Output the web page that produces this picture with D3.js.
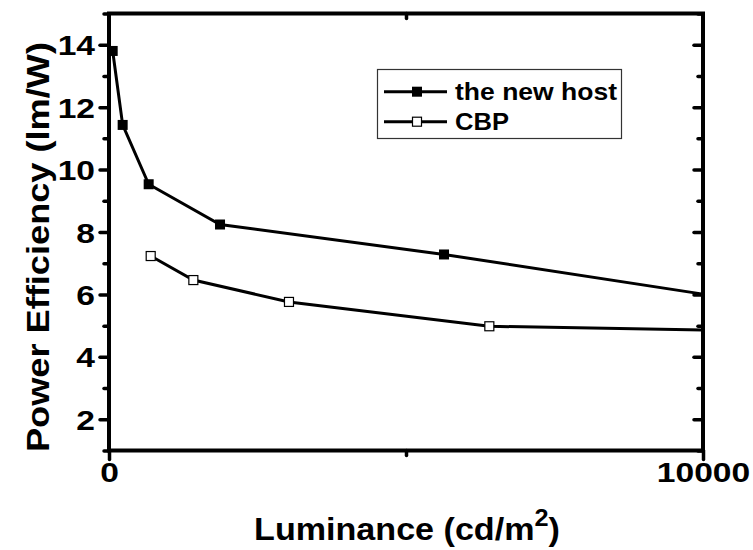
<!DOCTYPE html>
<html>
<head>
<meta charset="utf-8">
<script src="https://cdn.jsdelivr.net/npm/d3@7"></script>
<style>
  body { margin: 0; background: #fff; }
  svg { display: block; }
  svg text { font-family: "Liberation Sans", Arial, sans-serif; font-weight: bold; fill: #000; }
</style>
</head>
<body>
<div id="chart"></div>
<script>
// data
const newHostX = [62, 230, 668, 1869, 5640, 10000];
const newHostY = [13.8, 11.43, 9.53, 8.24, 7.28, 6.01];
const cbpX = [702, 1420, 3030, 6403, 10000];
const cbpY = [7.23, 6.46, 5.76, 4.98, 4.86];

const xMajor = [0, 10000];
const xMinor = [5000];
const yMajor = [2, 4, 6, 8, 10, 12, 14];
const yMinor = [1, 3, 5, 7, 9, 11, 13, 15];

const seriesNames = ['the new host', 'CBP'];

const width = 753, height = 550;
const svg = d3.select('#chart').append('svg')
    .attr('width', width)
    .attr('height', height);

const x = d3.scaleLinear().domain([0, 10000]).range([109, 703]);
const y = d3.scaleLinear().domain([1, 15]).range([450.5, 13.5]);

const series = [
    { name: seriesNames[0], data: newHostX.map((v, i) => ({ x: v, y: newHostY[i] })), fill: '#000' },
    { name: seriesNames[1], data: cbpX.map((v, i) => ({ x: v, y: cbpY[i] })), fill: '#fff' }
];

// lines
const line = d3.line().x(d => x(d.x)).y(d => y(d.y));
series.forEach(s => {
    svg.append('path')
        .datum(s.data)
        .attr('fill', 'none')
        .attr('stroke', '#000')
        .attr('stroke-width', 3)
        .attr('d', line);
});

// markers (the last points sit on the right frame, no symbol visible there)
series.forEach(s => {
    const size = s.fill === '#000' ? 10 : 9;
    svg.selectAll(null)
        .data(s.data.filter(d => d.x < 10000))
        .enter().append('rect')
        .attr('x', d => x(d.x) - size / 2)
        .attr('y', d => y(d.y) - size / 2)
        .attr('width', size)
        .attr('height', size)
        .attr('fill', s.fill)
        .attr('stroke', '#000')
        .attr('stroke-width', s.fill === '#000' ? 0 : 1.2);
});

// axes: ticks first, then frame
function styleAxis(g) {
    g.attr('font-family', null).attr('font-size', null);
    g.select('.domain').remove();
    g.selectAll('.tick line')
        .attr('stroke', '#000')
        .attr('stroke-width', 3.5)
        .attr('stroke-linecap', 'round');
}

const tickStretch = 1.2;
const tickFont = 28;
const fmt = d3.format('d');

function styleLabels(g, dy) {
    g.selectAll('text')
        .attr('fill', '#000')
        .style('font-size', tickFont + 'px')
        .attr('dy', dy)
        .attr('textLength', d => fmt(d).length * 0.556 * tickFont * tickStretch)
        .attr('lengthAdjust', 'spacingAndGlyphs');
}

// left
svg.append('g').attr('transform', `translate(${x(0)},0)`)
    .call(d3.axisLeft(y).tickValues(yMinor).tickSize(5).tickFormat(''))
    .call(styleAxis);
svg.append('g').attr('transform', `translate(${x(0)},0)`)
    .call(d3.axisLeft(y).tickValues(yMajor).tickSize(9).tickPadding(5).tickFormat(fmt))
    .call(styleAxis)
    .call(g => styleLabels(g, '0.36em'));

// right (inward)
svg.append('g').attr('transform', `translate(${x(10000)},0)`)
    .call(d3.axisLeft(y).tickValues(yMinor).tickSize(5).tickFormat(''))
    .call(styleAxis);
svg.append('g').attr('transform', `translate(${x(10000)},0)`)
    .call(d3.axisLeft(y).tickValues(yMajor).tickSize(9).tickFormat(''))
    .call(styleAxis);

// bottom
svg.append('g').attr('transform', `translate(0,${y(1)})`)
    .call(d3.axisBottom(x).tickValues(xMinor).tickSize(5).tickFormat(''))
    .call(styleAxis);
svg.append('g').attr('transform', `translate(0,${y(1)})`)
    .call(d3.axisBottom(x).tickValues(xMajor).tickSize(9).tickPadding(2).tickFormat(fmt))
    .call(styleAxis)
    .call(g => styleLabels(g, '0.72em'));

// top (inward)
svg.append('g').attr('transform', `translate(0,${y(15)})`)
    .call(d3.axisBottom(x).tickValues(xMinor).tickSize(5).tickFormat(''))
    .call(styleAxis);

// frame
svg.append('rect')
    .attr('x', x(0))
    .attr('y', y(15))
    .attr('width', x(10000) - x(0))
    .attr('height', y(1) - y(15))
    .attr('fill', 'none')
    .attr('stroke', '#000')
    .attr('stroke-width', 4);

// axis titles
const xTitle = svg.append('text')
    .attr('transform', `translate(${(x(0) + x(10000)) / 2 + 1},540) scale(1.1,1)`)
    .attr('text-anchor', 'middle')
    .style('font-size', '31px');
xTitle.append('tspan').text('Luminance (cd/m');
xTitle.append('tspan').attr('dy', -14).style('font-size', '23px').text('2');
xTitle.append('tspan').attr('dy', 14).text(')');

svg.append('text')
    .attr('transform', 'translate(49,247) rotate(-90)')
    .attr('text-anchor', 'middle')
    .attr('textLength', 410)
    .attr('lengthAdjust', 'spacingAndGlyphs')
    .style('font-size', '31px')
    .text('Power Efficiency (lm/W)');

// legend
const legend = svg.append('g');
legend.append('rect')
    .attr('x', 377.5).attr('y', 69.5)
    .attr('width', 244).attr('height', 69)
    .attr('fill', '#fff')
    .attr('stroke', '#333')
    .attr('stroke-width', 1.2);

const legendWidths = [162, 54];
series.forEach((s, i) => {
    const ly = 91.7 + i * 30;
    const row = legend.append('g').attr('transform', `translate(0,${ly})`);
    row.append('line')
        .attr('x1', 384).attr('x2', 447)
        .attr('stroke', '#000').attr('stroke-width', 3);
    const size = s.fill === '#000' ? 10 : 9;
    row.append('rect')
        .attr('x', 417 - size / 2).attr('y', -size / 2)
        .attr('width', size).attr('height', size)
        .attr('fill', s.fill)
        .attr('stroke', '#000')
        .attr('stroke-width', s.fill === '#000' ? 0 : 1.2);
    row.append('text')
        .attr('x', 455)
        .attr('dy', '0.36em')
        .style('font-size', '24px')
        .attr('textLength', legendWidths[i])
        .attr('lengthAdjust', 'spacingAndGlyphs')
        .text(s.name);
});
</script>
</body>
</html>
